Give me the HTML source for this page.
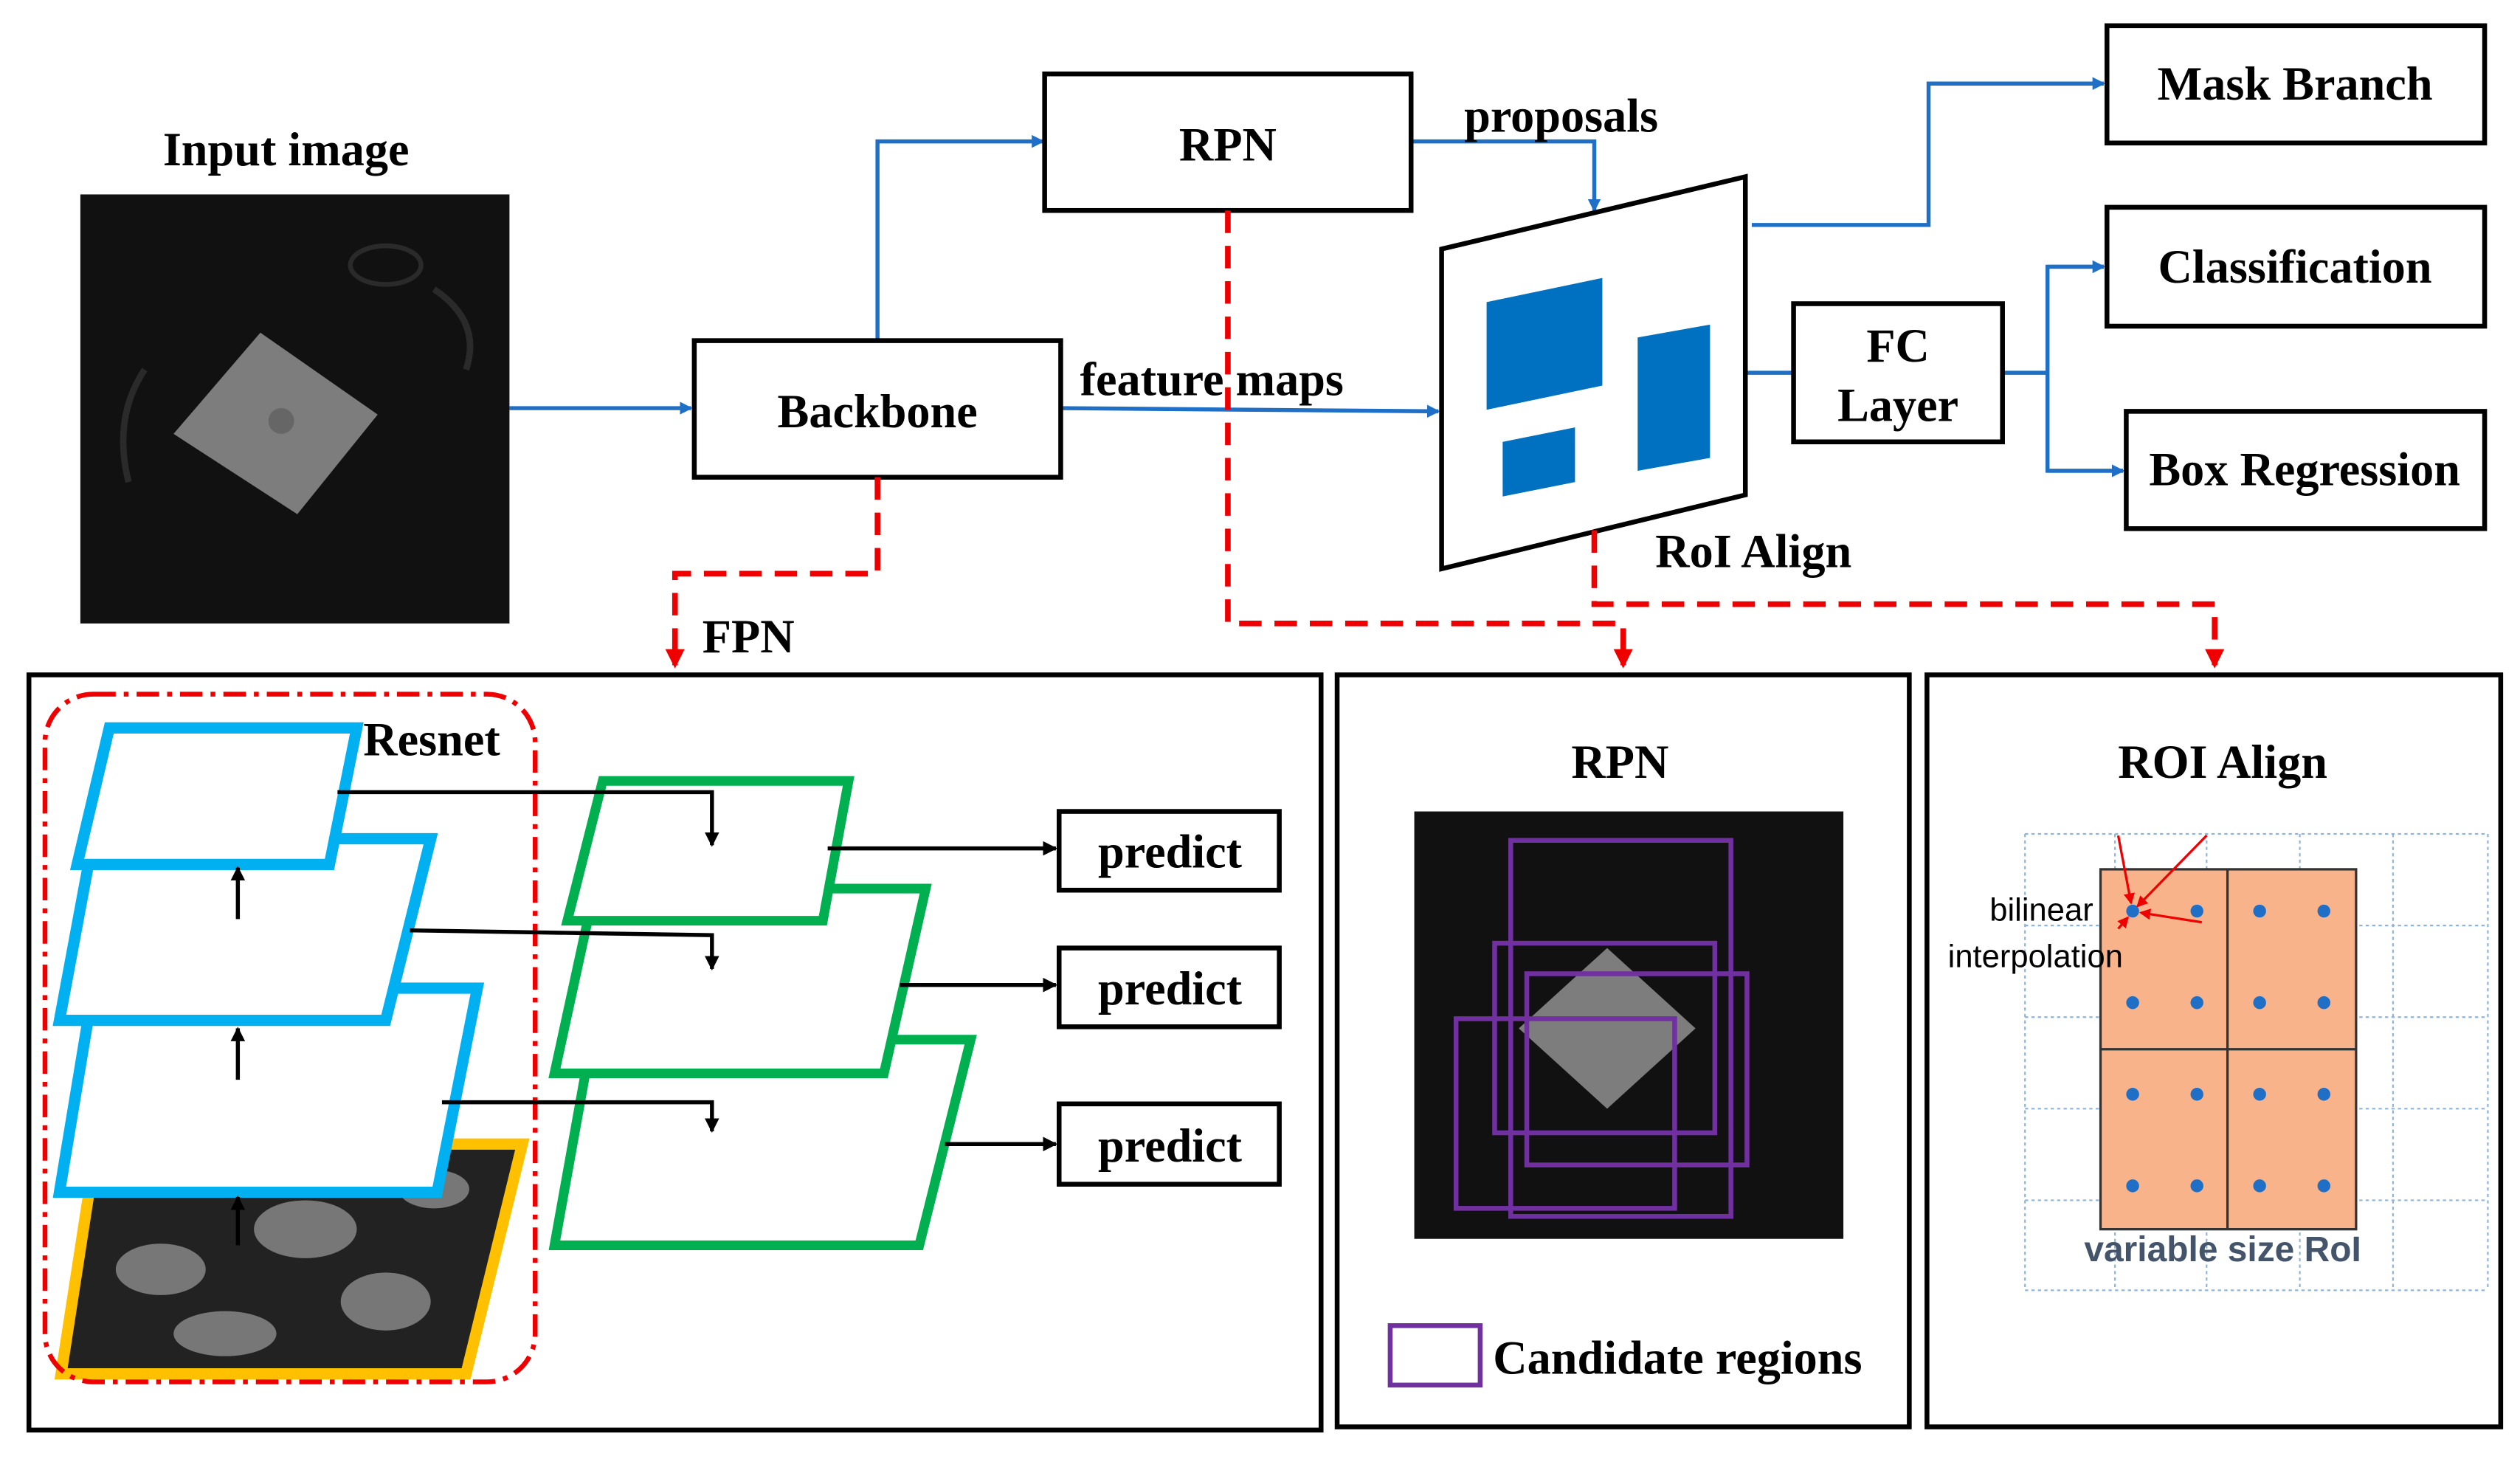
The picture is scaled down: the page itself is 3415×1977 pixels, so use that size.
<!DOCTYPE html>
<html><head><meta charset="utf-8"><style>
html,body{margin:0;padding:0;background:#fff;}
svg{display:block}
text{font-family:"Liberation Serif",serif;font-weight:bold;fill:#000;font-size:29.5px}
.s{font-family:"Liberation Sans",sans-serif;font-weight:normal}
</style></head><body>
<svg width="3415" height="1977" viewBox="0 0 1568 908" preserveAspectRatio="none" xmlns="http://www.w3.org/2000/svg">
<defs>
<marker id="ab" markerWidth="8" markerHeight="8" refX="7" refY="4" orient="auto" markerUnits="userSpaceOnUse"><path d="M0,0 L8,4 L0,8z" fill="#1f6fc6"/></marker>
<marker id="ak" markerWidth="9" markerHeight="9" refX="8" refY="4.5" orient="auto" markerUnits="userSpaceOnUse"><path d="M0,0 L9,4.5 L0,9z" fill="#000"/></marker>
<marker id="ar" markerWidth="12" markerHeight="12" refX="10" refY="6" orient="auto" markerUnits="userSpaceOnUse"><path d="M0,0 L12,6 L0,12z" fill="#e00"/></marker>
<marker id="ao" markerWidth="7" markerHeight="7" refX="6" refY="3.5" orient="auto" markerUnits="userSpaceOnUse"><path d="M0,0 L7,3.5 L0,7z" fill="#e00"/></marker>
</defs>
<text x="178" y="103" text-anchor="middle">Input image</text>
<rect x="50" y="121" width="267" height="267" fill="#111"/>
<path d="M80,300 Q70,260 90,230 M270,180 Q300,200 290,230" stroke="#2a2a2a" stroke-width="4" fill="none"/>
<ellipse cx="240" cy="165" rx="22" ry="12" stroke="#2a2a2a" stroke-width="3" fill="none"/>
<polygon points="108,270 162,207 235,258 185,320" fill="#7d7d7d"/>
<circle cx="175" cy="262" r="8" fill="#666"/>
<g stroke="#1f6fc6" stroke-width="2.5" fill="none">
<line x1="317" y1="254" x2="430" y2="254" marker-end="url(#ab)"/>
<polyline points="546,212 546,88 649,88" marker-end="url(#ab)"/>
<polyline points="878,88 992,88 992,131" marker-end="url(#ab)"/>
<line x1="660" y1="254" x2="895" y2="256" marker-end="url(#ab)"/>
<polyline points="1090,140 1200,140 1200,52 1309,52" marker-end="url(#ab)"/>
<line x1="1086" y1="232" x2="1116" y2="232"/>
<polyline points="1246,232 1274,232"/>
<polyline points="1309,166 1274,166 1274,293 1321,293"/>
<line x1="1274" y1="166" x2="1309" y2="166" marker-end="url(#ab)"/>
<line x1="1274" y1="293" x2="1321" y2="293" marker-end="url(#ab)"/>
</g>
<g stroke="#000" stroke-width="3" fill="#fff">
<rect x="432" y="212" width="228" height="85"/>
<rect x="650" y="46" width="228" height="85"/>
<rect x="1116" y="189" width="130" height="86"/>
<rect x="1311" y="16" width="235" height="73"/>
<rect x="1311" y="129" width="235" height="74"/>
<rect x="1323" y="256" width="223" height="73"/>
<polygon points="897,155 1086,110 1086,308 897,354"/>
</g>
<g fill="#0070c0">
<polygon points="925,188 997,173 997,240 925,255"/>
<polygon points="1019,210 1064,202 1064,285 1019,293"/>
<polygon points="935,275 980,266 980,300 935,309"/>
</g>
<text x="546" y="266" text-anchor="middle">Backbone</text>
<text x="764" y="100" text-anchor="middle">RPN</text>
<text x="1181" y="225" text-anchor="middle">FC</text>
<text x="1181" y="262" text-anchor="middle">Layer</text>
<text x="1428" y="62" text-anchor="middle">Mask Branch</text>
<text x="1428" y="176" text-anchor="middle">Classification</text>
<text x="1434" y="302" text-anchor="middle">Box Regression</text>
<text x="911" y="82">proposals</text>
<text x="672" y="246">feature maps</text>
<text x="1030" y="353">RoI Align</text>
<text x="437" y="406">FPN</text>
<g stroke="#e00" stroke-width="3.5" fill="none" stroke-dasharray="14,8">
<polyline points="546,297 546,357 420,357 420,414" marker-end="url(#ar)"/>
<polyline points="764,131 764,388 1010,388 1010,414" marker-end="url(#ar)"/>
<polyline points="992,330 992,376 1378,376 1378,414" marker-end="url(#ar)"/>
</g>
<g stroke="#000" stroke-width="3" fill="none">
<rect x="18" y="420" width="804" height="470"/>
<rect x="832" y="420" width="356" height="468"/>
<rect x="1199" y="420" width="357" height="468"/>
</g>
<polygon points="60,712 325,712 290,855 38,855" fill="#222" stroke="#ffc000" stroke-width="7"/>
<g fill="#777"><ellipse cx="100" cy="790" rx="28" ry="16"/><ellipse cx="190" cy="765" rx="32" ry="18"/><ellipse cx="240" cy="810" rx="28" ry="18"/><ellipse cx="140" cy="830" rx="32" ry="14"/><ellipse cx="270" cy="740" rx="22" ry="12"/></g>
<g stroke="#00b0f0" stroke-width="7" fill="#fff">
<polygon points="58,615 297,615 272,742 37,742"/>
<polygon points="58,522 268,522 240,635 37,635"/>
<polygon points="68,453 222,453 205,538 48,538"/>
</g>
<rect x="28" y="432" width="305" height="428" rx="30" fill="none" stroke="#e00" stroke-width="3" stroke-dasharray="14,5,3,5"/>
<text x="226" y="470">Resnet</text>
<g stroke="#00b050" stroke-width="6" fill="#fff">
<polygon points="368,647 604,647 572,775 345,775"/>
<polygon points="370,553 576,553 550,668 345,668"/>
<polygon points="375,486 528,486 512,573 353,573"/>
</g>
<g stroke="#000" stroke-width="2.5" fill="none">
<line x1="148" y1="572" x2="148" y2="540" marker-end="url(#ak)"/>
<line x1="148" y1="672" x2="148" y2="640" marker-end="url(#ak)"/>
<line x1="148" y1="775" x2="148" y2="745" marker-end="url(#ak)"/>
<polyline points="210,493 443,493 443,526" marker-end="url(#ak)"/>
<polyline points="255,579 443,582 443,603" marker-end="url(#ak)"/>
<polyline points="275,686 443,686 443,704" marker-end="url(#ak)"/>
<line x1="515" y1="528" x2="657" y2="528" marker-end="url(#ak)"/>
<line x1="560" y1="613" x2="657" y2="613" marker-end="url(#ak)"/>
<line x1="588" y1="712" x2="657" y2="712" marker-end="url(#ak)"/>
</g>
<g stroke="#000" stroke-width="3" fill="#fff">
<rect x="659" y="505" width="137" height="49"/>
<rect x="659" y="590" width="137" height="49"/>
<rect x="659" y="687" width="137" height="50"/>
</g>
<text x="728" y="540" text-anchor="middle">predict</text>
<text x="728" y="625" text-anchor="middle">predict</text>
<text x="728" y="723" text-anchor="middle">predict</text>
<text x="1008" y="484" text-anchor="middle">RPN</text>
<rect x="880" y="505" width="267" height="266" fill="#111"/>
<polygon points="945,640 1000,590 1055,640 1000,690" fill="#7d7d7d"/>
<g stroke="#7030a0" stroke-width="3" fill="none">
<rect x="940" y="523" width="137" height="234"/>
<rect x="930" y="587" width="137" height="118"/>
<rect x="950" y="606" width="137" height="119"/>
<rect x="906" y="634" width="136" height="118"/>
<rect x="865" y="825" width="56" height="37"/>
</g>
<text x="929" y="855">Candidate regions</text>
<text x="1383" y="484" text-anchor="middle">ROI Align</text>
<g stroke="#8fb4d9" stroke-width="1" stroke-dasharray="2,2" fill="none">
<path d="M1260,519V803M1316,519V803M1373,519V803M1431,519V803M1489,519V803M1548,519V803M1260,519H1548M1260,576H1548M1260,633H1548M1260,690H1548M1260,747H1548M1260,803H1548"/>
</g>
<rect x="1307" y="541" width="159" height="224" fill="#f8b38b" stroke="#333" stroke-width="1.5"/>
<path d="M1386,541V765M1307,653H1466" stroke="#333" stroke-width="1.5"/>
<g fill="#1f6fc6">
<circle cx="1327" cy="567" r="4"/><circle cx="1367" cy="567" r="4"/><circle cx="1406" cy="567" r="4"/><circle cx="1446" cy="567" r="4"/>
<circle cx="1327" cy="624" r="4"/><circle cx="1367" cy="624" r="4"/><circle cx="1406" cy="624" r="4"/><circle cx="1446" cy="624" r="4"/>
<circle cx="1327" cy="681" r="4"/><circle cx="1367" cy="681" r="4"/><circle cx="1406" cy="681" r="4"/><circle cx="1446" cy="681" r="4"/>
<circle cx="1327" cy="738" r="4"/><circle cx="1367" cy="738" r="4"/><circle cx="1406" cy="738" r="4"/><circle cx="1446" cy="738" r="4"/>
</g>
<g stroke="#e00" stroke-width="1.5" fill="none">
<line x1="1318" y1="520" x2="1326" y2="562" marker-end="url(#ao)"/>
<line x1="1373" y1="520" x2="1330" y2="564" marker-end="url(#ao)"/>
<line x1="1370" y1="574" x2="1332" y2="568" marker-end="url(#ao)"/>
<line x1="1318" y1="578" x2="1324" y2="571" marker-end="url(#ao)"/>
</g>
<text class="s" x="1238" y="573" style="font-size:20px">bilinear</text>
<text class="s" x="1212" y="602" style="font-size:20px">interpolation</text>
<text class="s" x="1383" y="785" text-anchor="middle" style="font-size:22px;font-weight:bold;fill:#44546a">variable size RoI</text>
</svg>
</body></html>
